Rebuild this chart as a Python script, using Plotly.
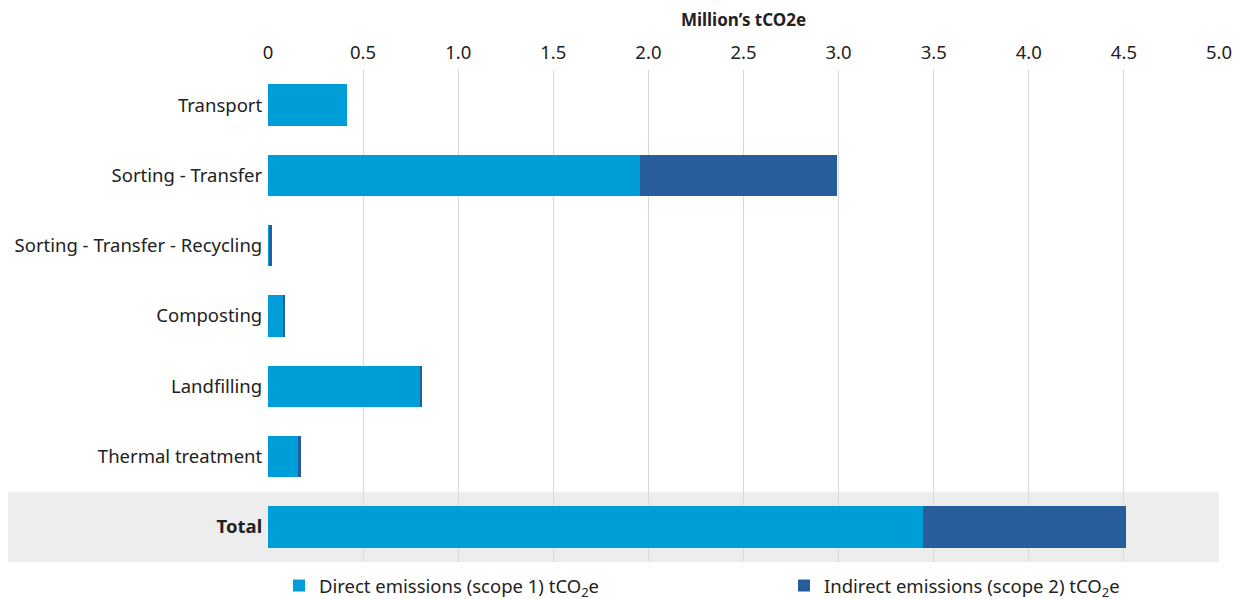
import plotly.graph_objects as go

categories = ["Transport", "Sorting - Transfer", "Sorting - Transfer - Recycling",
              "Composting", "Landfilling", "Thermal treatment", "Total"]
direct = [0.415, 1.956, 0.007, 0.084, 0.803, 0.158, 3.444]
indirect = [0.0, 1.035, 0.013, 0.005, 0.007, 0.014, 1.067]
tick_vals = [0, 0.5, 1.0, 1.5, 2.0, 2.5, 3.0, 3.5, 4.0, 4.5, 5.0]
tick_text = ["0", "0.5", "1.0", "1.5", "2.0", "2.5", "3.0", "3.5", "4.0", "4.5", "5.0"]
cat_labels = [c if c != "Total" else "<b>Total</b>" for c in categories]

FONT = "Noto Sans"
FS = 18.5
W, H = 1235, 599
fig = go.Figure()
fig.add_trace(go.Bar(y=cat_labels, x=direct, orientation="h",
                     name="Direct emissions (scope 1) tCO<sub>2</sub>e",
                     marker=dict(color="#009ED9", line=dict(width=0)),
                     legend="legend"))
fig.add_trace(go.Bar(y=cat_labels, x=indirect, orientation="h",
                     name="Indirect emissions (scope 2) tCO<sub>2</sub>e",
                     marker=dict(color="#285C9C", line=dict(width=0)),
                     legend="legend2"))

fig.add_shape(type="rect", xref="paper", yref="y domain",
              x0=-0.2734, x1=1.0, y0=0, y1=1/7, fillcolor="#EDEDED",
              line=dict(width=0), layer="below")

leg_common = dict(orientation="h", xanchor="left", yanchor="middle",
                  xref="container", yref="container", itemwidth=30,
                  font=dict(family=FONT, size=FS, color="#222222"),
                  bgcolor="rgba(0,0,0,0)")

fig.update_layout(
    width=W, height=H,
    barmode="stack", bargap=0.41,
    plot_bgcolor="white", paper_bgcolor="white",
    margin=dict(l=268, r=16, t=70, b=37, autoexpand=False),
    font=dict(family=FONT, size=FS, color="#222222"),
    showlegend=True,
    legend=dict(x=279 / W, y=1 - 586 / H, **leg_common),
    legend2=dict(x=784 / W, y=1 - 586 / H, **leg_common),
    xaxis=dict(side="top", range=[0, 5.0], tickvals=tick_vals, ticktext=tick_text,
               showgrid=True, gridcolor="#D9D9D9", gridwidth=1.3,
               zeroline=False, showline=False, ticks="", automargin=False,
               ticklabelstandoff=6,
               title=dict(text="<b>Million’s tCO2e</b>", font=dict(size=17), standoff=8),
               tickfont=dict(size=FS, color="#222222")),
    yaxis=dict(autorange="reversed", showgrid=False, ticks="", showline=False,
               automargin=False,
               ticksuffix=" ", tickfont=dict(size=FS, color="#222222")),
)
fig.write_html("out.html", config={"displayModeBar": False},
               post_script="document.body.style.margin='0';document.body.style.overflow='hidden';")
